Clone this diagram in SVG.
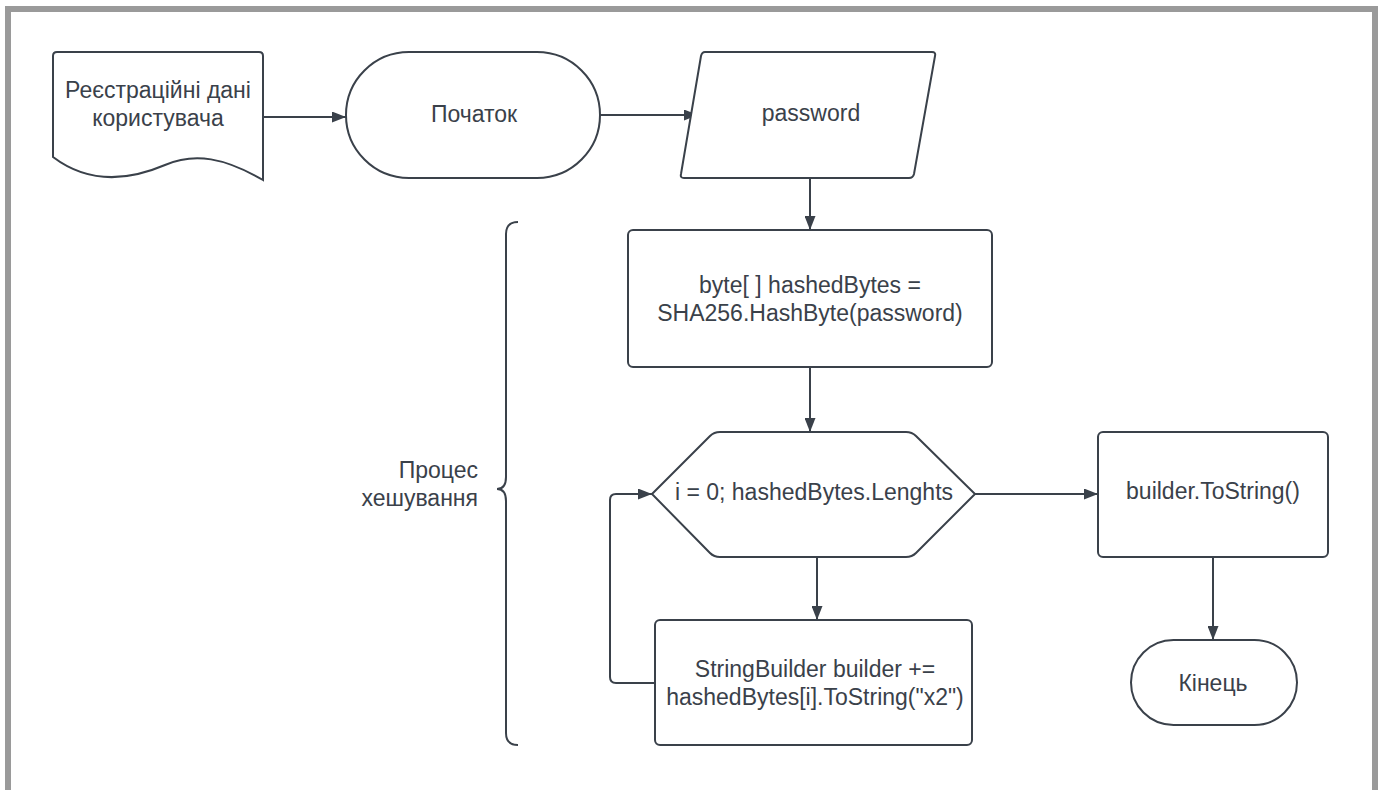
<svg xmlns="http://www.w3.org/2000/svg" width="1383" height="790" viewBox="0 0 1383 790">
  <style>
    .shape { fill: #ffffff; stroke: #3a414a; stroke-width: 2; }
    .edge { fill: none; stroke: #3a414a; stroke-width: 2; }
    .label { font-family: "Liberation Sans", Arial, sans-serif; font-size: 23px; fill: #3a414a; text-anchor: middle; }
  </style>
  <defs>
    <marker id="arrow" viewBox="0 0 14 11" refX="14" refY="5.5" markerWidth="14" markerHeight="11" markerUnits="userSpaceOnUse" orient="auto">
      <path d="M0,0 L14,5.5 L0,11 Z" fill="#3a414a"/>
    </marker>
  </defs>

  <!-- page frame -->
  <rect x="5" y="6" width="1373" height="790" fill="#9a9a9a"/>
  <rect x="11" y="12" width="1361" height="790" fill="#ffffff"/>

  <g id="connectors">
    <path class="edge" d="M263,117 H346" marker-end="url(#arrow)"/>
    <path class="edge" d="M600,115 H698" marker-end="url(#arrow)"/>
    <path class="edge" d="M810,178 V230" marker-end="url(#arrow)"/>
    <path class="edge" d="M810,367 V432" marker-end="url(#arrow)"/>
    <path class="edge" d="M817,557 V620" marker-end="url(#arrow)"/>
    <path class="edge" d="M655,683 H616 Q610,683 610,677 V500 Q610,494 616,494 H652" marker-end="url(#arrow)"/>
    <path class="edge" d="M975,494 H1098" marker-end="url(#arrow)"/>
    <path class="edge" d="M1213,557 V640" marker-end="url(#arrow)"/>
  </g>

  <g id="user-data">
    <path class="shape" d="M53,56 Q53,52 57,52 H259 Q263,52 263,56 V180 C225,158 195,152 165,165 C130,180 90,185 53,157 Z"/>
    <text class="label" x="158" y="98">Реєстраційні дані</text>
    <text class="label" x="158" y="126">користувача</text>
  </g>

  <g id="start">
    <rect class="shape" x="346" y="52" width="254" height="126" rx="63" ry="63"/>
    <text class="label" x="474" y="122">Початок</text>
  </g>

  <g id="password">
    <path class="shape" d="M705,52 H932 Q936,52 935,56 L914,174 Q913,178 909,178 H684 Q680,178 681,174 L701,56 Q702,52 705,52 Z"/>
    <text class="label" x="811" y="121">password</text>
  </g>

  <g id="hash-bytes">
    <rect class="shape" x="628" y="230" width="364" height="137" rx="5" ry="5"/>
    <text class="label" x="810" y="293">byte[ ] hashedBytes =</text>
    <text class="label" x="810" y="321">SHA256.HashByte(password)</text>
  </g>

  <g id="loop">
    <path class="shape" d="M652,494 L710,436 Q714,432 720,432 H906 Q912,432 916,436 L975,494 L916,553 Q912,557 906,557 H720 Q714,557 710,553 Z"/>
    <text class="label" x="814" y="500">i = 0; hashedBytes.Lenghts</text>
  </g>

  <g id="append">
    <rect class="shape" x="655" y="620" width="317" height="125" rx="5" ry="5"/>
    <text class="label" x="815" y="677">StringBuilder builder +=</text>
    <text class="label" x="815" y="705">hashedBytes[i].ToString("x2")</text>
  </g>

  <g id="to-string">
    <rect class="shape" x="1098" y="432" width="230" height="125" rx="5" ry="5"/>
    <text class="label" x="1213" y="499">builder.ToString()</text>
  </g>

  <g id="end">
    <rect class="shape" x="1131" y="640" width="166" height="85" rx="42.5" ry="42.5"/>
    <text class="label" x="1213" y="691">Кінець</text>
  </g>

  <g id="hashing-group">
    <path class="edge" d="M518,222 Q506,222 506,234 V477 Q506,489 497,489 Q506,489 506,501 V733 Q506,745 518,745"/>
    <text class="label" x="478" y="478" style="text-anchor:end">Процес</text>
    <text class="label" x="478" y="506" style="text-anchor:end">хешування</text>
  </g>
</svg>
